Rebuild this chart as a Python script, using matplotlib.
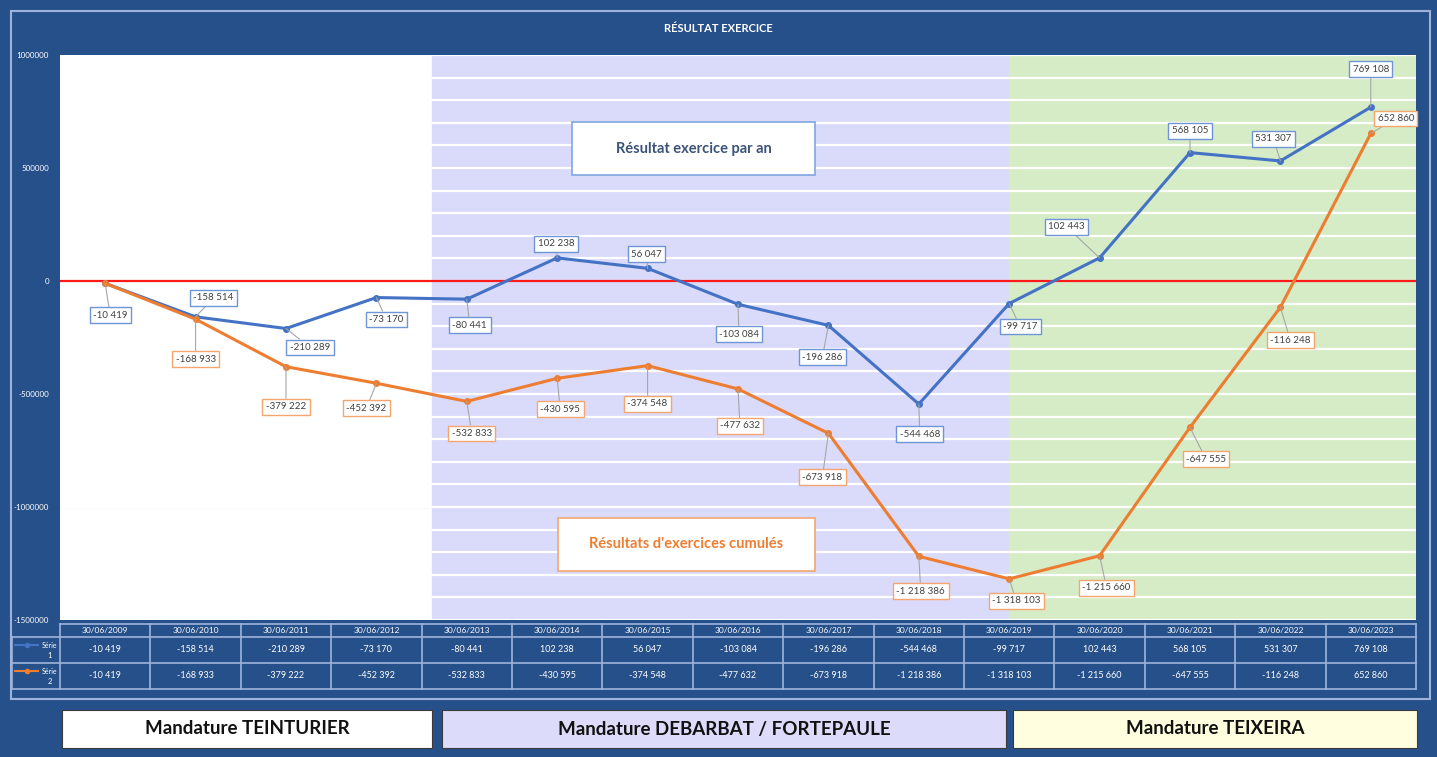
import matplotlib.pyplot as plt
from matplotlib.patches import Rectangle
from matplotlib.ticker import FuncFormatter, MultipleLocator
import numpy as np

plt.rcParams['font.family'] = ['Lato', 'DejaVu Sans']

dates = ['30/06/2009', '30/06/2010', '30/06/2011', '30/06/2012', '30/06/2013',
         '30/06/2014', '30/06/2015', '30/06/2016', '30/06/2017', '30/06/2018',
         '30/06/2019', '30/06/2020', '30/06/2021', '30/06/2022', '30/06/2023']
resultat_an = [-10419, -158514, -210289, -73170, -80441, 102238, 56047, -103084,
               -196286, -544468, -99717, 102443, 568105, 531307, 769108]
resultat_cumul = [-10419, -168933, -379222, -452392, -532833, -430595, -374548,
                  -477632, -673918, -1218386, -1318103, -1215660, -647555,
                  -116248, 652860]
mandatures = ['Mandature TEINTURIER', 'Mandature DEBARBAT / FORTEPAULE',
              'Mandature TEIXEIRA']

# label offsets in pixels (dx right, dy down)
off_an = [(5, 32), (18, -19), (24, 19), (10, 22), (3, 26), (-1, -14), (-1, -14),
          (1, 30), (-6, 32), (1, 30), (11, 23), (-33, -31), (0, -22), (-7, -22),
          (0, -38)]
off_cumul = [None, (0, 40), (0, 40), (-10, 25), (5, 32), (3, 31), (0, 38),
             (2, 37), (-6, 44), (2, 35), (7, 22), (7, 32), (16, 32), (10, 33),
             (25, -15)]

W, H = 1437, 757
BG = '#26508a'
BLUE = '#4472c4'
ORANGE = '#ed7d31'
FRAME = '#9db3dc'


def fx(x):
    return x / W


def fy(y):
    return 1 - y / H


def fmt(v):
    return f'{v:,}'.replace(',', ' ')


fig = plt.figure(figsize=(W / 100, H / 100), dpi=100, facecolor=BG)

# outer frame
fig.patches.append(Rectangle((fx(11), fy(699)), fx(1430 - 11), (699 - 11) / H,
                             transform=fig.transFigure, fill=False,
                             edgecolor=FRAME, lw=1.5))
fig.text(fx(718), fy(28), 'RÉSULTAT EXERCICE', color='white', fontsize=8,
         fontweight='bold', ha='center', va='center')

ax = fig.add_axes([fx(60), fy(620), fx(1416 - 60), (620 - 55) / H])
ax.set_facecolor('white')
x = np.arange(len(dates))
ax.set_xlim(-0.5, 14.5)
ax.set_ylim(-1500000, 1000000)

ax.axvspan(3.62, 10, color='#dadafb', zorder=0)
ax.axvspan(10, 14.5, color='#d6ecc6', zorder=0)
ax.axhline(-1000000, xmax=4.12 / 15, color='#ececec', lw=1, zorder=0.5)
ax.yaxis.set_major_locator(MultipleLocator(500000))
ax.yaxis.set_minor_locator(MultipleLocator(100000))
ax.grid(True, axis='y', which='both', color='white', lw=1.6, zorder=1)
ax.set_axisbelow(True)
ax.yaxis.set_major_formatter(FuncFormatter(lambda v, p: f'{int(v)}'))
ax.tick_params(axis='y', which='both', colors='white', labelsize=5.8,
               length=0, pad=8)
ax.set_xticks([])
for s in ax.spines.values():
    s.set_visible(False)

ax.axhline(0, color='#ff1a1a', lw=1.6, zorder=2)
ax.plot(x, resultat_an, color=BLUE, lw=2.2, marker='o', ms=4, zorder=3)
ax.plot(x, resultat_cumul, color=ORANGE, lw=2.2, marker='o', ms=4, zorder=3)


def label(xi, v, off, edge):
    ax.annotate(fmt(v), (xi, v), xytext=(off[0], -off[1]),
                textcoords='offset pixels', ha='center', va='center',
                fontsize=7, color='#404040', zorder=5,
                bbox=dict(boxstyle='square,pad=0.35', fc='white', ec=edge,
                          lw=1),
                arrowprops=dict(arrowstyle='-', color='#a6a6a6', lw=0.8,
                                shrinkA=0, shrinkB=0))


for i in range(len(dates)):
    label(i, resultat_an[i], off_an[i], '#6f95d6')
    if off_cumul[i] is not None:
        label(i, resultat_cumul[i], off_cumul[i], '#f4a66e')

# explanation boxes
for (x0, y0, x1, y1, txt, ec, tc) in [
        (572, 122, 815, 175, 'Résultat exercice par an', '#7fa7e0', '#3b5377'),
        (558, 518, 815, 571, "Résultats d'exercices cumulés", '#f4a66e', ORANGE)]:
    fig.patches.append(Rectangle((fx(x0), fy(y1)), fx(x1 - x0), (y1 - y0) / H,
                                 transform=fig.transFigure, fc='white', ec=ec,
                                 lw=1.2, zorder=6))
    fig.text(fx((x0 + x1) / 2), fy((y0 + y1) / 2), txt, color=tc, fontsize=10.5,
             fontweight='bold', ha='center', va='center', zorder=7)

# data table
col_w = (1416 - 60) / 15
lc = FRAME
top, r0, r1, r2 = 624, 637, 663, 689
fig.add_artist(plt.Line2D([fx(60), fx(1416)], [fy(top), fy(top)], color=lc, lw=1.2))
for yy in (r0, r1, r2):
    fig.add_artist(plt.Line2D([fx(12), fx(1416)], [fy(yy), fy(yy)], color=lc, lw=1.2))
fig.add_artist(plt.Line2D([fx(12), fx(12)], [fy(r0), fy(r2)], color=lc, lw=1.2))
for k in range(16):
    xx = 60 + k * col_w
    fig.add_artist(plt.Line2D([fx(xx), fx(xx)], [fy(top), fy(r2)], color=lc, lw=1.2))
for i in range(15):
    cx = 60 + (i + 0.5) * col_w
    fig.text(fx(cx), fy((top + r0) / 2), dates[i], color='white', fontsize=6,
             ha='center', va='center')
    fig.text(fx(cx), fy((r0 + r1) / 2), fmt(resultat_an[i]), color='white',
             fontsize=6.5, ha='center', va='center')
    fig.text(fx(cx), fy((r1 + r2) / 2), fmt(resultat_cumul[i]), color='white',
             fontsize=6.5, ha='center', va='center')
for (ya, col, n) in [(r0, BLUE, '1'), (r1, ORANGE, '2')]:
    ym = ya + 8
    fig.add_artist(plt.Line2D([fx(15), fx(38)], [fy(ym), fy(ym)], color=col,
                              lw=1.5))
    fig.add_artist(plt.Line2D([fx(27)], [fy(ym)], color=col, marker='o', ms=3))
    fig.text(fx(57), fy(ym), 'Série', color='white', fontsize=5, ha='right',
             va='center')
    fig.text(fx(52), fy(ym + 11), n, color='white', fontsize=5.5, ha='right',
             va='center')

# mandature boxes
for (x0, x1, fc), txt in zip([(62, 432, 'white'), (442, 1006, '#dcdcfa'),
                              (1013, 1417, '#ffffe0')], mandatures):
    fig.patches.append(Rectangle((fx(x0), fy(748)), fx(x1 - x0), (748 - 710) / H,
                                 transform=fig.transFigure, fc=fc,
                                 ec='#3a3a3a', lw=0.8))
    fig.text(fx((x0 + x1) / 2), fy(729), txt, color='#111111', fontsize=13.5,
             fontweight='bold', ha='center', va='center')

fig.savefig('out.png', dpi=100, facecolor=BG)
